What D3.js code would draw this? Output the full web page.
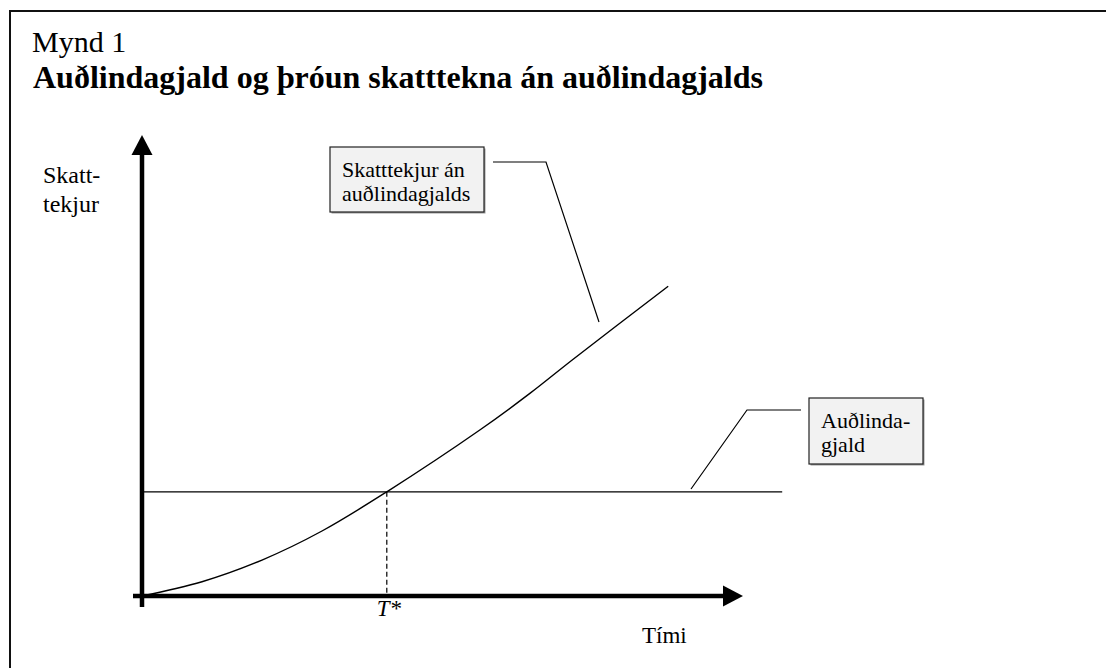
<!DOCTYPE html>
<head>
  <meta charset="utf-8">
  <script src="https://d3js.org/d3.v7.min.js"></script>
  <style>
    body { margin:0; background:#fff; overflow:hidden; }
    svg { display:block; }
  </style>
</head>
<body>
<script>
  // skatttekjur an audlindagjalds over tima
  var timi = [0, 10, 20, 30, 40.8, 56.3, 64.7, 71.7, 87.7];
  var skatttekjur = [0, 3.1, 7.8, 14.1, 22.6, 36, 44, 51.2, 67.2];
  // audlindagjald is flat
  var gjaldLevel = 22.6;
  var gjaldSpan = [0, 106.7];
  var tStar = 40.8;

  var serif = "'Liberation Serif', 'Times New Roman', Times, serif";
  var width = 1106, height = 668;
  var svg = d3.select("body").append("svg")
      .attr("width", width)
      .attr("height", height)
      .attr("font-family", serif);

  var x = d3.scaleLinear().domain([0, 100]).range([142, 742]);
  var y = d3.scaleLinear().domain([0, 100]).range([596, 135]);

  function label(px, py, size, s) {
    return svg.append("text")
      .attr("x", px).attr("y", py)
      .attr("font-family", serif)
      .attr("font-size", size)
      .attr("fill", "#000")
      .text(s);
  }

  // outer frame (runs off right/bottom edge)
  svg.append("rect")
     .attr("x", 10).attr("y", 11)
     .attr("width", 1120).attr("height", 700)
     .attr("fill", "none")
     .attr("stroke", "#111")
     .attr("stroke-width", 2);

  label(32, 52, 30, "Mynd 1");
  label(33, 88, 32, "Auðlindagjald og þróun skatttekna án auðlindagjalds")
     .attr("font-weight", "bold");

  // flat line
  svg.append("line")
     .attr("x1", x(gjaldSpan[0])).attr("x2", x(gjaldSpan[1]))
     .attr("y1", y(gjaldLevel)).attr("y2", y(gjaldLevel))
     .attr("stroke", "#000").attr("stroke-width", 1.3);

  // T* dashed
  svg.append("line")
     .attr("x1", x(tStar)).attr("x2", x(tStar))
     .attr("y1", y(gjaldLevel)).attr("y2", y(0))
     .attr("stroke", "#000").attr("stroke-width", 1.2)
     .attr("stroke-dasharray", "5,3");

  // curve
  var pts = timi.map(function(t, i) { return [t, skatttekjur[i]]; });
  var line = d3.line()
      .x(function(d) { return x(d[0]); })
      .y(function(d) { return y(d[1]); })
      .curve(d3.curveCatmullRom.alpha(0.5));
  svg.append("path")
     .datum(pts)
     .attr("d", line)
     .attr("fill", "none")
     .attr("stroke", "#000")
     .attr("stroke-width", 1.4);

  // axes
  var ax = 4.5;
  svg.append("line")
     .attr("x1", x(0)).attr("x2", x(0))
     .attr("y1", y(-2.4)).attr("y2", y(100) + 18)
     .attr("stroke", "#000").attr("stroke-width", ax);
  svg.append("path")
     .attr("d", "M" + x(0) + "," + y(100) + "L" + (x(0) - 10.5) + "," + (y(100) + 20) +
                "L" + (x(0) + 10.5) + "," + (y(100) + 20) + "Z")
     .attr("fill", "#000");
  svg.append("line")
     .attr("x1", x(-1.5)).attr("x2", x(100) - 18)
     .attr("y1", y(0)).attr("y2", y(0))
     .attr("stroke", "#000").attr("stroke-width", ax);
  svg.append("path")
     .attr("d", "M" + (x(100) + 1) + "," + y(0) + "L" + (x(100) - 19) + "," + (y(0) - 10.5) +
                "L" + (x(100) - 19) + "," + (y(0) + 10.5) + "Z")
     .attr("fill", "#000");

  // axis labels
  label(43, 183, 24, "Skatt-");
  label(43, 212, 24, "tekjur");
  label(642, 643, 23, "Tími");
  label(x(tStar) - 10, 616, 23, "T*").attr("font-style", "italic");

  // callouts
  function callout(bx, by, bw, bh, lines, leader) {
    svg.append("rect")
       .attr("x", bx + 1.5).attr("y", by + 1.5).attr("width", bw).attr("height", bh)
       .attr("fill", "#9a9a9a");
    svg.append("rect")
       .attr("x", bx).attr("y", by).attr("width", bw).attr("height", bh)
       .attr("fill", "#f2f2f2").attr("stroke", "#222").attr("stroke-width", 1.2);
    lines.forEach(function(s, i) {
      label(bx + 12, by + 30 + i * 24, 22, s);
    });
    svg.append("polyline")
       .attr("points", leader.map(function(p) { return p.join(","); }).join(" "))
       .attr("fill", "none").attr("stroke", "#000").attr("stroke-width", 1.2);
  }
  callout(330, 147, 154, 65, ["Skatttekjur án", "auðlindagjalds"],
          [[493, 162], [546, 162], [599, 322]]);
  callout(809, 398, 114, 66, ["Auðlinda-", "gjald"],
          [[801, 410], [747, 410], [691, 489]]);
</script>
</body>
